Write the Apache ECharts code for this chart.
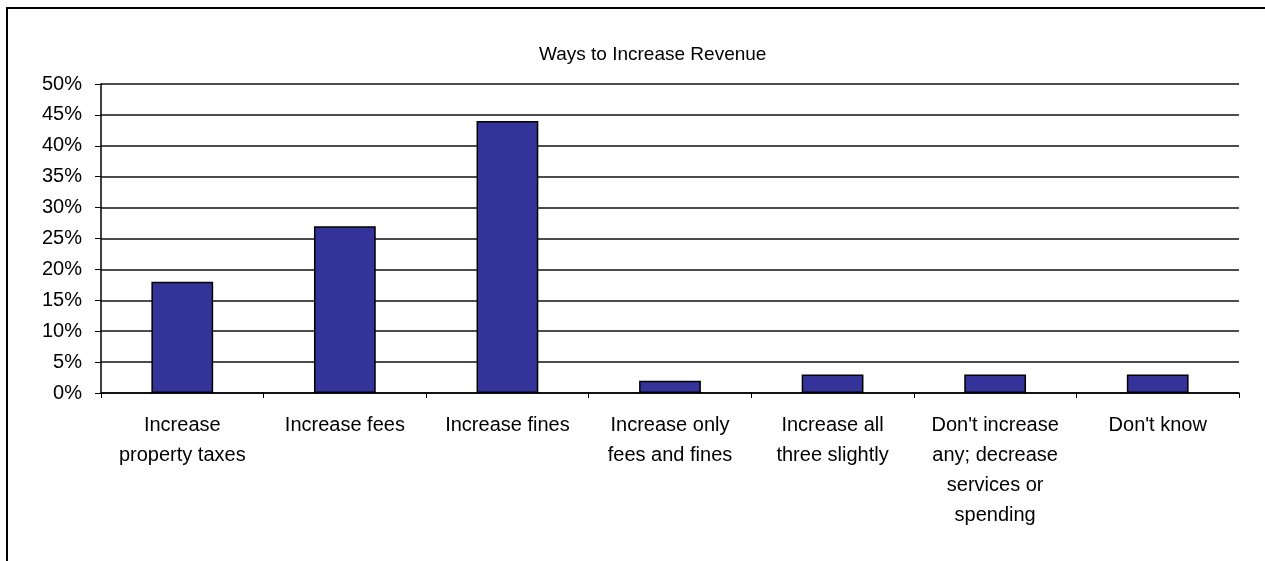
<!DOCTYPE html>
<html>
<head>
<meta charset="utf-8">
<script src="https://cdn.jsdelivr.net/npm/echarts@6/dist/echarts.min.js"></script>
<style>
  html, body { margin: 0; padding: 0; background: #fff; }
  #chart { width: 1265px; height: 561px; }
</style>
</head>
<body>
<div id="chart"></div>
<script>
// 数据
var categories = [
    "Increase\nproperty taxes",
    "Increase fees",
    "Increase fines",
    "Increase only\nfees and fines",
    "Increase all\nthree slightly",
    "Don't increase\nany; decrease\nservices or\nspending",
    "Don't know"
];
var values = [18, 27, 44, 2, 3, 3, 3];
var yTicks = [0, 5, 10, 15, 20, 25, 30, 35, 40, 45, 50];

var chart = echarts.init(document.getElementById("chart"));
var font = "'Liberation Sans', Arial, sans-serif";

var option = {
    animation: false,
    backgroundColor: "#fff",
    graphic: [
        {
            type: "rect",
            shape: { x: 7, y: 8, width: 1300, height: 600 },
            style: { fill: "none", stroke: "#000", lineWidth: 2 }
        }
    ],
    title: {
        text: "Ways to Increase Revenue",
        left: 534,
        top: 40,
        textStyle: { fontFamily: font, fontSize: 19, fontWeight: "normal", color: "#000" }
    },
    grid: { left: 101, right: 26, top: 84, bottom: 168, containLabel: false },
    xAxis: {
        type: "category",
        data: categories,
        axisLine: { show: true, lineStyle: { color: "#000", width: 1.5 } },
        axisTick: { show: true, length: 5, lineStyle: { color: "#000" } },
        axisLabel: {
            interval: 0,
            margin: 17,
            fontFamily: font,
            fontSize: 20,
            lineHeight: 30,
            color: "#000",
            align: "center"
        }
    },
    yAxis: {
        type: "value",
        min: 0,
        max: 50,
        interval: 5,
        axisLine: { show: true, lineStyle: { color: "#000", width: 1.5 } },
        axisTick: { show: true, length: 6, lineStyle: { color: "#000" } },
        splitLine: { show: true, lineStyle: { color: "#111", width: 1.5 } },
        axisLabel: {
            margin: 19,
            fontFamily: font,
            fontSize: 20,
            color: "#000",
            formatter: function (v) { return yTicks.indexOf(v) >= 0 ? v + "%" : ""; }
        }
    },
    series: [
        {
            type: "bar",
            data: values,
            barWidth: "38%",
            itemStyle: { color: "#333399", borderColor: "#000", borderWidth: 1.5 }
        }
    ]
};

chart.setOption(option);
</script>
</body>
</html>
